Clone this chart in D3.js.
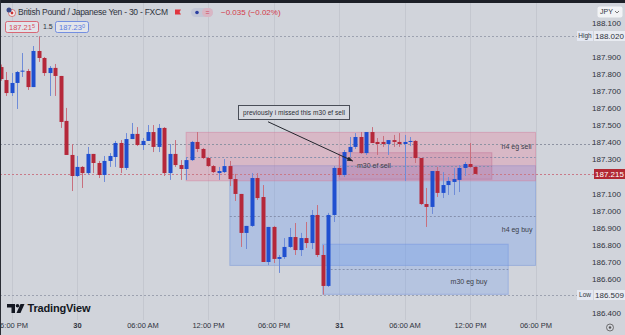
<!DOCTYPE html>
<html>
<head>
<meta charset="utf-8">
<script src="https://cdnjs.cloudflare.com/ajax/libs/d3/7.8.5/d3.min.js"></script>
<style>
  html, body { margin: 0; padding: 0; background: #d1d4db; overflow: hidden; }
  svg { display: block; font-family: "Liberation Sans", Arial, sans-serif; }
</style>
</head>
<body>
<div id="chart"></div>
<script>
// GBPJPY 30m bars, first bar 17:00 on the 29th
const firstBar = Date.UTC(2024, 0, 29, 17, 0);
const halfHour = 30 * 60 * 1000;

const opens = [187.840, 187.764, 187.688, 187.747, 187.813, 187.817, 187.723, 187.934, 187.893, 187.805,
  187.835, 187.788, 187.525, 187.326, 187.203, 187.256, 187.220, 187.332, 187.279, 187.209,
  187.291, 187.314, 187.396, 187.250, 187.419, 187.449, 187.384, 187.408, 187.460, 187.373,
  187.484, 187.220, 187.332, 187.267, 187.244, 187.296, 187.402, 187.361, 187.308, 187.261,
  187.220, 187.226, 187.261, 187.185, 187.098, 186.870, 186.911, 187.191, 187.080, 186.700,
  186.905, 186.718, 186.729, 186.788, 186.846, 186.770, 186.840, 186.811, 186.975, 186.741,
  186.560, 186.975, 187.250, 187.209, 187.343, 187.373, 187.431, 187.337, 187.460, 187.402,
  187.402, 187.390, 187.413, 187.402, 187.390, 187.402, 187.408, 187.308, 187.039, 187.022,
  187.232, 187.104, 187.150, 187.168, 187.180, 187.250, 187.273, 187.256];
const highs = [187.855, 187.811, 187.805, 187.817, 187.922, 187.829, 187.963, 188.020, 187.899, 187.846,
  187.858, 187.788, 187.601, 187.390, 187.320, 187.261, 187.373, 187.332, 187.291, 187.320,
  187.337, 187.408, 187.413, 187.454, 187.513, 187.489, 187.425, 187.501, 187.501, 187.507,
  187.489, 187.390, 187.413, 187.296, 187.314, 187.408, 187.460, 187.367, 187.314, 187.267,
  187.256, 187.302, 187.291, 187.215, 187.098, 186.911, 187.220, 187.220, 187.150, 186.905,
  186.911, 186.741, 186.840, 186.899, 186.928, 186.870, 186.934, 187.004, 187.033, 186.799,
  186.987, 187.261, 187.326, 187.355, 187.431, 187.454, 187.460, 187.460, 187.489, 187.425,
  187.437, 187.413, 187.443, 187.454, 187.443, 187.431, 187.413, 187.308, 187.133, 187.232,
  187.256, 187.226, 187.197, 187.250, 187.267, 187.285, 187.396, 187.256];
const lows = [187.760, 187.671, 187.671, 187.595, 187.782, 187.706, 187.723, 187.870, 187.788, 187.671,
  187.671, 187.484, 187.326, 187.115, 187.197, 187.133, 187.209, 187.220, 187.191, 187.168,
  187.256, 187.256, 187.220, 187.238, 187.419, 187.378, 187.355, 187.408, 187.343, 187.343,
  187.203, 187.180, 187.256, 187.180, 187.180, 187.291, 187.343, 187.302, 187.256, 187.220,
  187.180, 187.220, 187.144, 187.057, 186.788, 186.776, 186.905, 187.063, 186.700, 186.682,
  186.694, 186.636, 186.718, 186.782, 186.741, 186.735, 186.782, 186.776, 186.729, 186.509,
  186.554, 186.934, 187.197, 187.197, 187.314, 187.361, 187.332, 187.326, 187.396, 187.326,
  187.373, 187.326, 187.373, 187.373, 187.174, 187.378, 187.279, 187.033, 186.905, 186.981,
  187.080, 187.074, 187.092, 187.092, 187.109, 187.203, 187.250, 187.215];
const closes = [187.770, 187.688, 187.747, 187.811, 187.819, 187.723, 187.934, 187.893, 187.805, 187.835,
  187.788, 187.519, 187.326, 187.203, 187.256, 187.220, 187.332, 187.279, 187.209, 187.291,
  187.320, 187.396, 187.250, 187.419, 187.449, 187.384, 187.408, 187.460, 187.373, 187.484,
  187.220, 187.332, 187.267, 187.244, 187.296, 187.402, 187.361, 187.308, 187.261, 187.226,
  187.232, 187.261, 187.185, 187.098, 186.870, 186.911, 187.191, 187.074, 186.700, 186.905,
  186.718, 186.729, 186.788, 186.846, 186.770, 186.840, 186.811, 186.975, 186.741, 186.560,
  186.975, 187.250, 187.209, 187.343, 187.373, 187.431, 187.337, 187.460, 187.396, 187.390,
  187.390, 187.413, 187.402, 187.390, 187.402, 187.408, 187.308, 187.039, 187.022, 187.232,
  187.104, 187.150, 187.174, 187.185, 187.250, 187.273, 187.256, 187.215];

// drawn zones
const zoneNames = ['h4 eg buy', 'h4 eg sell', 'm30 eg buy', 'm30 ef sell'];
const zoneStart = [Date.UTC(2024, 0, 30, 14, 0), Date.UTC(2024, 0, 30, 10, 0), Date.UTC(2024, 0, 30, 22, 30), Date.UTC(2024, 0, 31, 0, 0)];
const zoneEnd = [Date.UTC(2024, 0, 31, 18, 0), Date.UTC(2024, 0, 31, 18, 0), Date.UTC(2024, 0, 31, 15, 30), Date.UTC(2024, 0, 31, 14, 0)];
const zoneTop = [187.263, 187.458, 186.804, 187.339];
const zoneBottom = [186.680, 187.175, 186.511, 187.184];
const zoneLabelPrice = [186.891, 187.378, 186.583, 187.262];

const priceTicks = [188.1, 187.9, 187.8, 187.7, 187.6, 187.5, 187.4, 187.3, 187.1, 187.0, 186.9, 186.8, 186.7, 186.6, 186.4];
const timeTicks = [Date.UTC(2024, 0, 29, 18), Date.UTC(2024, 0, 30, 0), Date.UTC(2024, 0, 30, 6), Date.UTC(2024, 0, 30, 12),
  Date.UTC(2024, 0, 30, 18), Date.UTC(2024, 0, 31, 0), Date.UTC(2024, 0, 31, 6), Date.UTC(2024, 0, 31, 12), Date.UTC(2024, 0, 31, 18)];

const sessionHigh = 188.020, sessionLow = 186.509, lastPrice = 187.215, prevLine = 187.390;
const askPrice = '187.23', bidPrice = '187.21';
const change = '\u22120.035 (\u22120.02%)';
const calloutText = 'previously i missed this m30 ef sell';
const calloutFrom = [Date.UTC(2024, 0, 30, 17, 30), 187.520];
const calloutTo = [Date.UTC(2024, 0, 31, 1, 15), 187.291];

const width = 625, height = 335,
    red = '#b5283a', blue = '#1f4fd0',
    redWick = '#c8707e', blueWick = '#6f8cd8',
    textCol = '#2f333d',
    bg = '#d1d4db';

const svg = d3.select('#chart').append('svg')
    .attr('width', width)
    .attr('height', height);

const x = d3.scaleUtc()
    .domain([Date.UTC(2024, 0, 30), Date.UTC(2024, 0, 31)])
    .range([77, 339]);
const y = d3.scaleLinear()
    .domain([186.4, 188.1])
    .range([313.3, 22.6]);

const bars = opens.map((o, i) => ({
    t: new Date(firstBar + i * halfHour),
    o: o, h: highs[i], l: lows[i], c: closes[i]
}));

svg.append('rect').attr('width', width).attr('height', height).attr('fill', bg);

// vertical grid
svg.append('g').selectAll('line')
    .data(timeTicks)
    .join('line')
    .attr('x1', d => Math.round(x(d)) + 0.5)
    .attr('x2', d => Math.round(x(d)) + 0.5)
    .attr('y1', 3).attr('y2', 320)
    .attr('stroke', '#c4c7cf');

// zones
const zoneFill = ['rgba(100,150,240,0.30)', 'rgba(236,110,145,0.27)', 'rgba(100,150,240,0.26)', 'rgba(195,85,130,0.20)'];
const zoneStroke = ['rgba(110,145,215,0.45)', 'rgba(210,120,150,0.45)', 'rgba(110,145,225,0.45)', 'rgba(190,100,140,0.40)'];
const zones = svg.append('g');
zoneNames.forEach((name, i) => {
    const x0 = x(zoneStart[i]), x1 = x(zoneEnd[i]);
    const y0 = y(zoneTop[i]), y1 = y(zoneBottom[i]);
    zones.append('rect')
        .attr('x', x0).attr('y', y0)
        .attr('width', x1 - x0).attr('height', y1 - y0)
        .attr('fill', zoneFill[i])
        .attr('stroke', zoneStroke[i])
        .attr('stroke-width', 1);
    const mid = Math.round(y((zoneTop[i] + zoneBottom[i]) / 2)) + 0.5;
    zones.append('line')
        .attr('x1', x0).attr('x2', x1)
        .attr('y1', mid).attr('y2', mid)
        .attr('stroke', '#8590ad')
        .attr('stroke-dasharray', '2,2');
});

// horizontal price lines
function hline(p, col, x2) {
    svg.append('line')
        .attr('x1', 0).attr('x2', x2)
        .attr('y1', Math.round(y(p)) + 0.5).attr('y2', Math.round(y(p)) + 0.5)
        .attr('stroke', col)
        .attr('stroke-dasharray', '2,2');
}
hline(sessionHigh, '#9da2b0', 577);
hline(sessionLow, '#9da2b0', 577);
hline(prevLine, '#8e93a2', 594);
hline(lastPrice, '#c97a88', 594);

// candles
const candle = svg.append('g').selectAll('g')
    .data(bars)
    .join('g');
candle.append('line')
    .attr('x1', d => Math.round(x(d.t)) + 0.5)
    .attr('x2', d => Math.round(x(d.t)) + 0.5)
    .attr('y1', d => y(d.h))
    .attr('y2', d => y(d.l))
    .attr('stroke', d => d.c >= d.o ? blueWick : redWick);
candle.append('rect')
    .attr('x', d => Math.round(x(d.t)) - 1.5)
    .attr('width', 4)
    .attr('y', d => y(Math.max(d.o, d.c)))
    .attr('height', d => Math.max(1, Math.abs(y(d.o) - y(d.c))))
    .attr('fill', d => d.c >= d.o ? blue : red);

// zone labels
const labelAnchor = ['end', 'end', 'end', 'start'];
const labelPad = [3, 4, 21, 18];
zoneNames.forEach((name, i) => {
    const xx = labelAnchor[i] === 'end' ? x(zoneEnd[i]) - labelPad[i] : x(zoneStart[i]) + labelPad[i];
    svg.append('text')
        .attr('x', xx)
        .attr('y', y(zoneLabelPrice[i]))
        .attr('dy', '0.35em')
        .attr('text-anchor', labelAnchor[i])
        .attr('font-size', 7)
        .attr('fill', '#3a3e4a')
        .text(name);
});

// callout
svg.append('defs').append('marker')
    .attr('id', 'arrow')
    .attr('viewBox', '0 0 10 10')
    .attr('refX', 9).attr('refY', 5)
    .attr('markerWidth', 6).attr('markerHeight', 6)
    .attr('orient', 'auto')
    .append('path')
    .attr('d', 'M0,1 L10,5 L0,9 Z')
    .attr('fill', '#23262e');
svg.append('line')
    .attr('x1', x(calloutFrom[0])).attr('y1', y(calloutFrom[1]))
    .attr('x2', x(calloutTo[0])).attr('y2', y(calloutTo[1]))
    .attr('stroke', '#23262e')
    .attr('stroke-width', 1)
    .attr('marker-end', 'url(#arrow)');
const cg = svg.append('g');
cg.append('rect')
    .attr('x', 238.5).attr('y', 105.5)
    .attr('width', 111).attr('height', 14)
    .attr('fill', '#d6d9e0')
    .attr('stroke', '#4a4e58');
cg.append('text')
    .attr('x', 294).attr('y', 112.5)
    .attr('dy', '0.35em')
    .attr('text-anchor', 'middle')
    .attr('font-size', 6.5)
    .attr('textLength', 102)
    .attr('fill', '#2a2d35')
    .text(calloutText);

// price axis
const yAxis = svg.append('g')
    .attr('transform', 'translate(592,0)')
    .call(d3.axisRight(y).tickValues(priceTicks).tickFormat(d3.format('.3f')).tickSize(0).tickPadding(0));
yAxis.select('.domain').remove();
yAxis.selectAll('text').attr('font-size', 8).attr('fill', textCol).attr('font-family', '"Liberation Sans", Arial, sans-serif');

// top of the price scale sits under the currency button
svg.append('rect').attr('x', 588).attr('y', 3).attr('width', 37).attr('height', 17.5).attr('fill', bg);

// high / low / last labels
function axisTag(p, tag) {
    const yy = Math.round(y(p));
    svg.append('rect').attr('x', 577).attr('y', yy - 5).attr('width', 16).attr('height', 10).attr('fill', '#e4e8f2');
    svg.append('rect').attr('x', 594).attr('y', yy - 5).attr('width', 31).attr('height', 10).attr('fill', '#e8ebf1');
    svg.append('text').attr('x', 585).attr('y', yy).attr('dy', '0.35em').attr('text-anchor', 'middle')
        .attr('font-size', 6.5).attr('fill', textCol).text(tag);
    svg.append('text').attr('x', 595).attr('y', yy).attr('dy', '0.35em').attr('font-size', 8).attr('fill', textCol).text(d3.format('.3f')(p));
}
axisTag(sessionHigh, 'High');
axisTag(sessionLow, 'Low');
const ly = Math.round(y(lastPrice));
svg.append('rect').attr('x', 594).attr('y', ly - 5).attr('width', 31).attr('height', 10).attr('fill', '#b22833');
svg.append('text').attr('x', 595).attr('y', ly).attr('dy', '0.35em').attr('font-size', 8).attr('fill', '#fff').text(d3.format('.3f')(lastPrice));

// JPY currency box
svg.append('rect').attr('x', 597.5).attr('y', 6.5).attr('width', 25).attr('height', 11).attr('rx', 2).attr('fill', '#f2f3f6');
svg.append('text').attr('x', 600).attr('y', 12).attr('dy', '0.35em').attr('font-size', 7).attr('fill', textCol).text('JPY');
svg.append('path').attr('d', 'M615,11 l2,2 l2,-2').attr('fill', 'none').attr('stroke', '#555').attr('stroke-width', 0.8);

// time axis
const fmt = d3.utcFormat('%I:%M %p');
const xAxis = svg.append('g')
    .attr('transform', 'translate(0,322)')
    .call(d3.axisBottom(x).tickValues(timeTicks.map(d => new Date(d)))
        .tickFormat(d => d.getUTCHours() === 0 ? String(d.getUTCDate()) : fmt(d))
        .tickSize(0).tickPadding(1));
xAxis.select('.domain').remove();
xAxis.selectAll('text')
    .attr('font-size', 7.5)
    .attr('fill', textCol)
    .attr('font-family', '"Liberation Sans", Arial, sans-serif')
    .attr('font-weight', d => d.getUTCHours() === 0 ? 700 : 400);

// gear icon
svg.append('circle').attr('cx', 610).attr('cy', 327.5).attr('r', 3.5).attr('fill', 'none').attr('stroke', '#555').attr('stroke-width', 0.8);
svg.append('circle').attr('cx', 610).attr('cy', 327.5).attr('r', 1.2).attr('fill', '#555');

// window frame
svg.append('rect').attr('width', width).attr('height', 3).attr('fill', '#1c1f27');
svg.append('rect').attr('width', 1).attr('height', height).attr('fill', '#2a2d35');

// legend
const lg = svg.append('g');
lg.append('circle').attr('cx', 12).attr('cy', 13).attr('r', 3.5).attr('fill', '#f2f2f2').attr('stroke', '#c33').attr('stroke-width', 0.6);
lg.append('circle').attr('cx', 12).attr('cy', 13).attr('r', 1.4).attr('fill', '#c33');
lg.append('circle').attr('cx', 9).attr('cy', 10).attr('r', 2.5).attr('fill', '#3a4a8a');
lg.append('text').attr('x', 18).attr('y', 12.5).attr('dy', '0.35em').attr('font-size', 8.5)
    .attr('textLength', 150).attr('fill', textCol)
    .text('British Pound / Japanese Yen - 30 - FXCM');
lg.append('path').attr('d', 'M175,9.5 h6 l-1.5,2.5 l1.5,2.5 h-6 Z').attr('fill', '#e0353f');
lg.append('rect').attr('x', 191).attr('y', 8).attr('width', 22).attr('height', 9).attr('rx', 4.5).attr('fill', '#c3c7d6');
lg.append('rect').attr('x', 202).attr('y', 8).attr('width', 11).attr('height', 9).attr('rx', 4.5).attr('fill', '#d9b6c4');
lg.append('circle').attr('cx', 197).attr('cy', 12.5).attr('r', 1.8).attr('fill', '#2b3fa0');
lg.append('text').attr('x', 207.5).attr('y', 12.5).attr('dy', '0.35em').attr('text-anchor', 'middle').attr('font-size', 7).attr('fill', '#d0435a').text('=');
lg.append('text').attr('x', 221).attr('y', 12.5).attr('dy', '0.35em').attr('font-size', 8).attr('fill', '#d33a4a').text(change);

function quoteBox(x0, col, txt, sup) {
    lg.append('rect').attr('x', x0 + 0.5).attr('y', 21.5).attr('width', 33).attr('height', 11).attr('rx', 2)
        .attr('fill', '#e2e4ea').attr('stroke', col).attr('stroke-width', 0.8);
    const t = lg.append('text').attr('x', x0 + 17).attr('y', 27).attr('dy', '0.35em').attr('text-anchor', 'middle')
        .attr('font-size', 7.5).attr('fill', col);
    t.append('tspan').text(txt);
    t.append('tspan').attr('font-size', 5.5).attr('dy', '-0.35em').text(sup);
}
quoteBox(5, '#d84a5a', bidPrice, '5');
lg.append('text').attr('x', 43).attr('y', 27).attr('dy', '0.35em').attr('font-size', 7).attr('fill', textCol).text('1.5');
quoteBox(55, '#5a7be0', askPrice, '0');

// TradingView mark
const logo = svg.append('g').attr('fill', '#131722');
logo.append('path').attr('d', 'M7,304 h8 v9 h-3.5 v-5.5 h-4.5 Z');
logo.append('circle').attr('cx', 17.5).attr('cy', 305.8).attr('r', 1.8);
logo.append('path').attr('d', 'M20.5,304 h4 l-4,9 h-4 Z');
logo.append('text').attr('x', 27.5).attr('y', 308.5).attr('dy', '0.35em')
    .attr('font-size', 11).attr('font-weight', 700).attr('textLength', 63).text('TradingView');
</script>
</body>
</html>
